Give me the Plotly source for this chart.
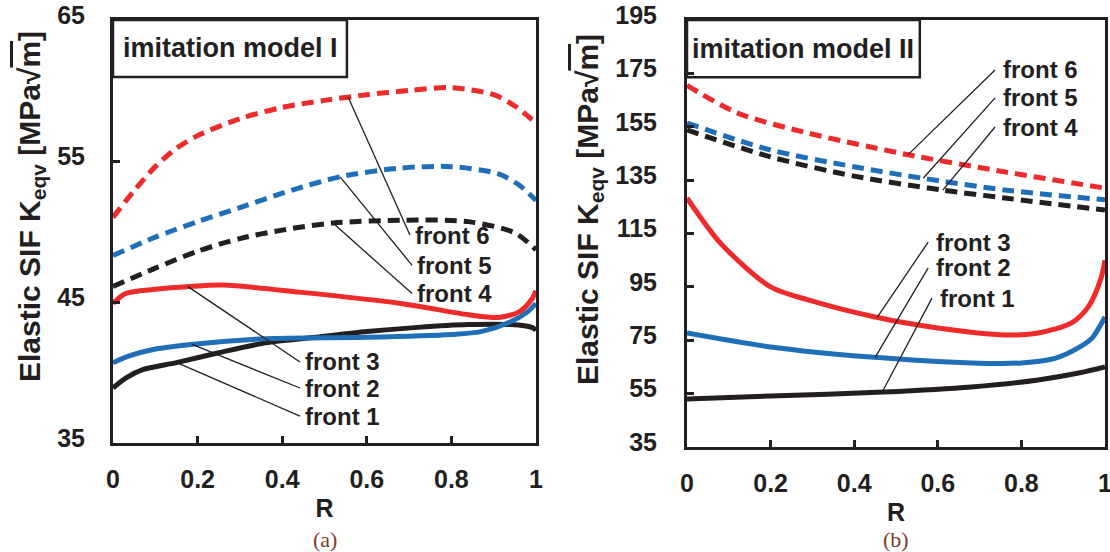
import numpy as np
import plotly.graph_objects as go

# ---------------- data: imitation model I ----------------
a_f1_R = [0, 0.03, 0.07, 0.15, 0.25, 0.36, 0.48, 0.6, 0.72, 0.84, 0.94, 0.99, 1.0]
a_f1_K = [38.9, 39.6, 40.2, 40.7, 41.4, 42.1, 42.5, 42.9, 43.2, 43.4, 43.4, 43.2, 43.0]
a_f2_R = [0, 0.04, 0.09, 0.19, 0.36, 0.6, 0.8, 0.87, 0.94, 0.98, 1.0]
a_f2_K = [40.7, 41.2, 41.6, 42.0, 42.4, 42.5, 42.7, 42.9, 43.6, 44.3, 44.9]
a_f3_R = [0, 0.03, 0.1, 0.18, 0.26, 0.44, 0.68, 0.84, 0.91, 0.96, 0.99, 1.0]
a_f3_K = [44.9, 45.6, 45.9, 46.1, 46.2, 45.7, 44.9, 44.1, 43.9, 44.3, 45.2, 45.8]
a_f4_R = [0, 0.1, 0.2, 0.3, 0.4, 0.52, 0.68, 0.84, 0.95, 1.0]
a_f4_K = [46.1, 47.4, 48.6, 49.5, 50.1, 50.6, 50.8, 50.7, 49.9, 48.7]
a_f5_R = [0, 0.1, 0.2, 0.3, 0.42, 0.54, 0.68, 0.8, 0.91, 0.96, 1.0]
a_f5_K = [48.3, 49.6, 50.7, 51.7, 52.9, 53.9, 54.5, 54.6, 54.1, 53.3, 52.2]
a_f6_R = [0, 0.05, 0.1, 0.15, 0.2, 0.3, 0.4, 0.5, 0.6, 0.7, 0.8, 0.9, 0.95, 1.0]
a_f6_K = [51.0, 52.9, 54.6, 55.9, 56.8, 58.0, 58.8, 59.3, 59.7, 60.0, 60.2, 59.7, 58.9, 57.7]

# ---------------- data: imitation model II ----------------
b_f1_R = [0, 0.2, 0.47, 0.68, 0.84, 0.94, 1.0]
b_f1_K = [53.0, 54.1, 55.6, 57.5, 60.1, 62.8, 65.0]
b_f2_R = [0, 0.2, 0.44, 0.68, 0.8, 0.88, 0.94, 0.97, 1.0]
b_f2_K = [77.7, 72.5, 68.7, 66.5, 66.5, 68.2, 72.5, 76.0, 83.7]
b_f3_R = [0, 0.08, 0.2, 0.29, 0.45, 0.6, 0.76, 0.84, 0.92, 0.96, 0.99, 1.0]
b_f3_K = [128.3, 111.4, 95.0, 90.1, 83.7, 79.6, 77.0, 77.7, 81.5, 87.5, 98.0, 105.0]
b_f4_R = [0, 0.2, 0.4, 0.61, 0.76, 1.0]
b_f4_K = [153.8, 143.7, 136.5, 131.3, 128.3, 123.8]
b_f5_R = [0, 0.2, 0.4, 0.56, 0.76, 1.0]
b_f5_K = [156.4, 146.3, 140.0, 135.8, 131.3, 127.6]
b_f6_R = [0, 0.12, 0.28, 0.52, 0.76, 1.0]
b_f6_K = [170.5, 160.2, 153.0, 144.8, 138.1, 132.0]

front_names = ["front 1", "front 2", "front 3", "front 4", "front 5", "front 6"]
panel_titles = ["imitation model I", "imitation model II"]
captions = ["(a)", "(b)"]
x_ticks = [0, 0.2, 0.4, 0.6, 0.8, 1]
a_y_ticks = [35, 45, 55, 65]
b_y_ticks = [35, 55, 75, 95, 115, 135, 155, 175, 195]

# leader-line anchors (R on curve) and label positions (R, K)
a_lead_R = [0.151, 0.187, 0.177, 0.52, 0.537, 0.556]
a_lab_R = [0.442, 0.442, 0.442, 0.707, 0.707, 0.702]
a_lab_K = [36.9, 38.9, 40.75, 45.6, 47.6, 49.75]
b_lead_R = [0.467, 0.45, 0.455, 0.612, 0.565, 0.529]
b_lab_R = [0.586, 0.577, 0.577, 0.737, 0.737, 0.737]
b_lab_K = [90.8, 102.1, 111.8, 154.9, 165.8, 176.3]

RED, BLUE, BLACK = "#EE2A2A", "#1F6FB8", "#231F20"
colors = [BLACK, BLUE, RED, BLACK, BLUE, RED]
dashes = ["solid", "solid", "solid", "12px,7px", "12px,7px", "12px,7px"]

a_series = [(a_f1_R, a_f1_K), (a_f2_R, a_f2_K), (a_f3_R, a_f3_K),
            (a_f4_R, a_f4_K), (a_f5_R, a_f5_K), (a_f6_R, a_f6_K)]
b_series = [(b_f1_R, b_f1_K), (b_f2_R, b_f2_K), (b_f3_R, b_f3_K),
            (b_f4_R, b_f4_K), (b_f5_R, b_f5_K), (b_f6_R, b_f6_K)]

FONT = "Liberation Sans, Arial, sans-serif"
fig = go.Figure()

for series, xa, ya in [(a_series, "x", "y"), (b_series, "x2", "y2")]:
    for i, (R, K) in enumerate(series):
        fig.add_trace(go.Scatter(
            x=R, y=K, mode="lines", xaxis=xa, yaxis=ya, showlegend=False,
            line=dict(color=colors[i], width=5, dash=dashes[i], shape="spline", smoothing=0.8),
            name=front_names[i]))

shapes = []
annotations = []
for series, lead_R, lab_R, lab_K, xa, ya, dx in [
        (a_series, a_lead_R, a_lab_R, a_lab_K, "x", "y", 0.008),
        (b_series, b_lead_R, b_lab_R, b_lab_K, "x2", "y2", 0.015)]:
    for i, (R, K) in enumerate(series):
        y0 = float(np.interp(lead_R[i], R, K))
        shapes.append(dict(type="line", xref=xa, yref=ya, x0=lead_R[i], y0=y0,
                           x1=lab_R[i], y1=lab_K[i], line=dict(color=BLACK, width=1.3)))
        annotations.append(dict(xref=xa, yref=ya, x=lab_R[i] + dx, y=lab_K[i],
                                text=front_names[i], showarrow=False, xanchor="left",
                                yanchor="middle",
                                font=dict(family=FONT, size=24, color=BLACK, weight="bold")))

# title boxes
for xa, ya, w, h in [("x", "y", 0.553, 0.135), ("x2", "y2", 0.557, 0.134)]:
    shapes.append(dict(type="rect", xref=xa + " domain", yref=ya + " domain",
                       x0=0, x1=w, y0=1 - h, y1=1, line=dict(color=BLACK, width=2.5),
                       fillcolor="white", layer="below"))
for k, (xa, ya, tx) in enumerate([("x", "y", 0.019), ("x2", "y2", 0.006)]):
    annotations.append(dict(xref=xa + " domain", yref=ya + " domain", x=tx, y=0.933,
                            text=panel_titles[k], showarrow=False, xanchor="left", yanchor="middle",
                            font=dict(family=FONT, size=27, color=BLACK, weight="bold")))

ytitle = "Elastic SIF K<sub>eqv</sub> [MPa√<span style='text-decoration:overline'>m</span>]"
for xp, yp in [(31 / 1110, 1 - 207 / 552), (589 / 1110, 1 - 210 / 552)]:
    annotations.append(dict(xref="paper", yref="paper", x=xp, y=yp, text=ytitle,
                            textangle=-90, showarrow=False, xanchor="center", yanchor="middle",
                            font=dict(family=FONT, size=30, color=BLACK, weight="bold")))
for k, xp in enumerate([324.5 / 1110, 896 / 1110]):
    annotations.append(dict(xref="paper", yref="paper", x=xp, y=1 - 539 / 552, text=captions[k],
                            showarrow=False, xanchor="center", yanchor="middle",
                            font=dict(family="Liberation Serif, serif", size=22, color="#7B3A2E")))

axis_common = dict(showline=True, linecolor=BLACK, linewidth=3, mirror=True,
                   ticks="inside", tickcolor=BLACK, tickwidth=3, ticklen=7,
                   showgrid=False, zeroline=False, ticklabeloverflow="allow",
                   automargin=False,
                   tickfont=dict(family=FONT, size=25, color=BLACK, weight="bold"))

xtitle_font = dict(family=FONT, size=25, color=BLACK, weight="bold")
fig.update_layout(
    width=1110, height=552, margin=dict(l=0, r=0, t=0, b=0, autoexpand=False),
    paper_bgcolor="white", plot_bgcolor="white",
    shapes=shapes, annotations=annotations,
    xaxis=dict(domain=[113 / 1110, 536 / 1110], range=[0, 1], tickvals=x_ticks,
               ticktext=[str(v) for v in x_ticks], anchor="y", ticklabelstandoff=12,
               title=dict(text="R", standoff=8, font=xtitle_font), **axis_common),
    yaxis=dict(domain=[1 - 443 / 552, 1 - 20 / 552], range=[35, 65], tickvals=a_y_ticks,
               anchor="x", ticklabelstandoff=20, ticklabelshift=-5, **axis_common),
    xaxis2=dict(domain=[687 / 1110, 1105 / 1110], range=[0, 1], tickvals=x_ticks,
                ticktext=[str(v) for v in x_ticks], anchor="y2", ticklabelstandoff=12,
                title=dict(text="R", standoff=8, font=xtitle_font), **axis_common),
    yaxis2=dict(domain=[1 - 447 / 552, 1 - 20 / 552], range=[35, 195], tickvals=b_y_ticks,
                anchor="x2", ticklabelstandoff=22, ticklabelshift=-5, **axis_common),
)

fig.write_html("out.html")
